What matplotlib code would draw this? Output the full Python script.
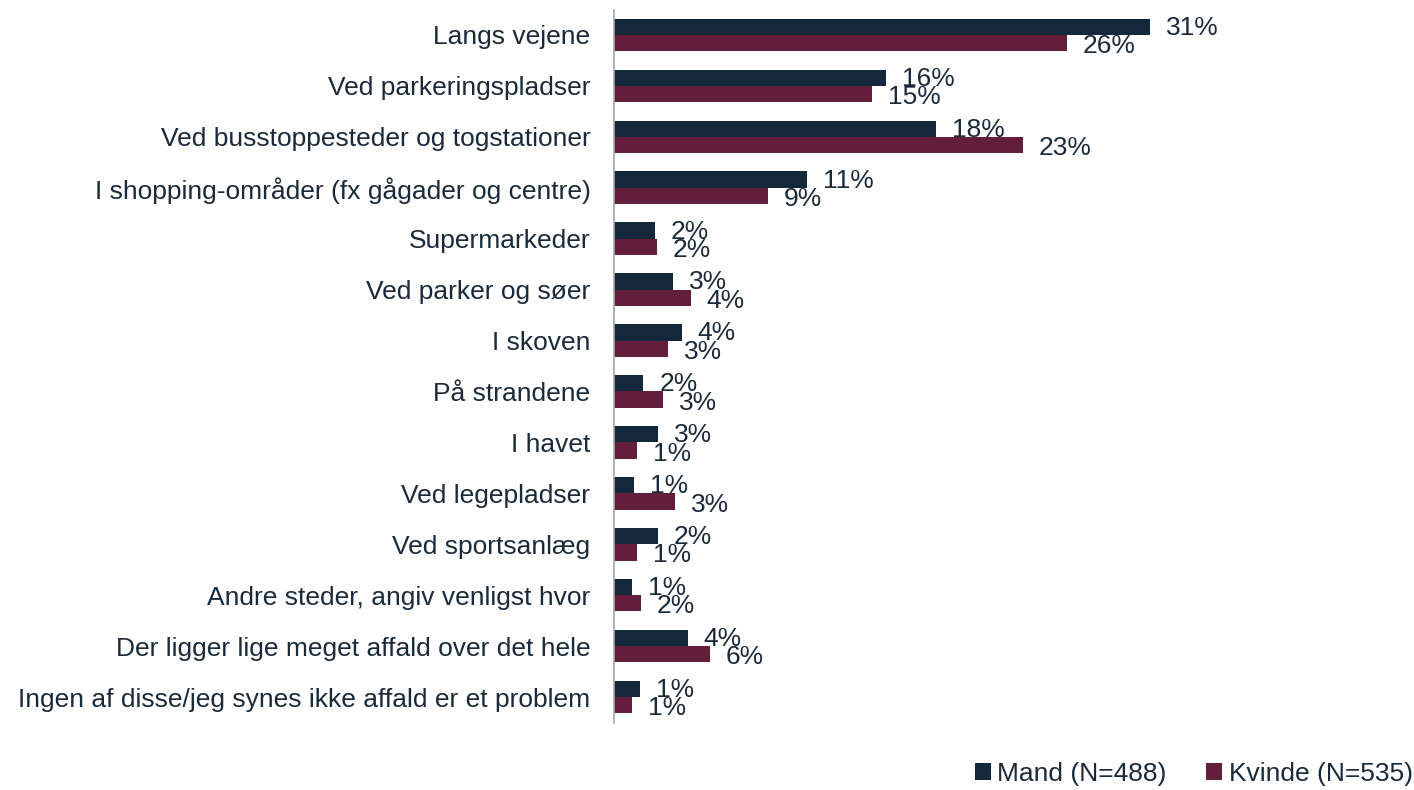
import matplotlib
matplotlib.use("Agg")
import matplotlib.pyplot as plt
import numpy as np

plt.rcParams['font.family'] = ['Liberation Sans', 'DejaVu Sans']

categories = [
    "Langs vejene",
    "Ved parkeringspladser",
    "Ved busstoppesteder og togstationer",
    "I shopping-områder (fx gågader og centre)",
    "Supermarkeder",
    "Ved parker og søer",
    "I skoven",
    "På strandene",
    "I havet",
    "Ved legepladser",
    "Ved sportsanlæg",
    "Andre steder, angiv venligst hvor",
    "Der ligger lige meget affald over det hele",
    "Ingen af disse/jeg synes ikke affald er et problem",
]
mand = [30.5, 15.5, 18.35, 11.0, 2.33, 3.34, 3.85, 1.67, 2.5, 1.16, 2.5, 1.04, 4.21, 1.48]
kvinde = [25.8, 14.67, 23.27, 8.77, 2.45, 4.36, 3.09, 2.81, 1.33, 3.49, 1.33, 1.52, 5.48, 1.02]
mand_labels = ["31%", "16%", "18%", "11%", "2%", "3%", "4%", "2%", "3%", "1%", "2%", "1%", "4%", "1%"]
kvinde_labels = ["26%", "15%", "23%", "9%", "2%", "4%", "3%", "3%", "1%", "3%", "1%", "2%", "6%", "1%"]
series_names = ["Mand (N=488)", "Kvinde (N=535)"]

c_mand = "#14283c"
c_kvinde = "#631e3b"
txt = "#1b2a3a"
fs = 19

W, H = 1414, 790
fig = plt.figure(figsize=(W / 100, H / 100), dpi=100)
ax_left, ax_right = 614, 1400
ax_top, ax_bot = 9.5, 722.5
ax = fig.add_axes([ax_left / W, 1 - ax_bot / H, (ax_right - ax_left) / W, (ax_bot - ax_top) / H])

n = len(categories)
y = np.arange(n)
bh = 0.32
ax.barh(y - bh / 2, mand, height=bh, color=c_mand, label=series_names[0])
ax.barh(y + bh / 2, kvinde, height=bh, color=c_kvinde, label=series_names[1])

ax.set_ylim(n - 0.5, -0.5)
ax.set_xlim(0, 786 / 17.57)

for i in range(n):
    ax.text(mand[i] + 0.9, y[i] - bh / 2 + 0.02, mand_labels[i], va="center", ha="left",
            fontsize=fs, color=txt)
    ax.text(kvinde[i] + 0.9, y[i] + bh / 2 + 0.06, kvinde_labels[i], va="center", ha="left",
            fontsize=fs, color=txt)

ax.set_yticks(y)
ax.set_yticklabels(categories, fontsize=fs, color=txt)
ax.tick_params(axis="y", length=0, pad=17)
ax.set_xticks([])
for s in ["top", "right", "bottom"]:
    ax.spines[s].set_visible(False)
ax.spines["left"].set_color("#a6a6a6")
ax.spines["left"].set_linewidth(1.2)

leg = fig.legend(loc="lower right", bbox_to_anchor=(1.002, 0.0), ncol=2, frameon=False,
                 fontsize=fs, handlelength=0.6, handleheight=0.6, handletextpad=0.25,
                 columnspacing=1.5, borderaxespad=0.0, borderpad=0.15)
for t in leg.get_texts():
    t.set_color(txt)

fig.savefig("out.png", dpi=100)
